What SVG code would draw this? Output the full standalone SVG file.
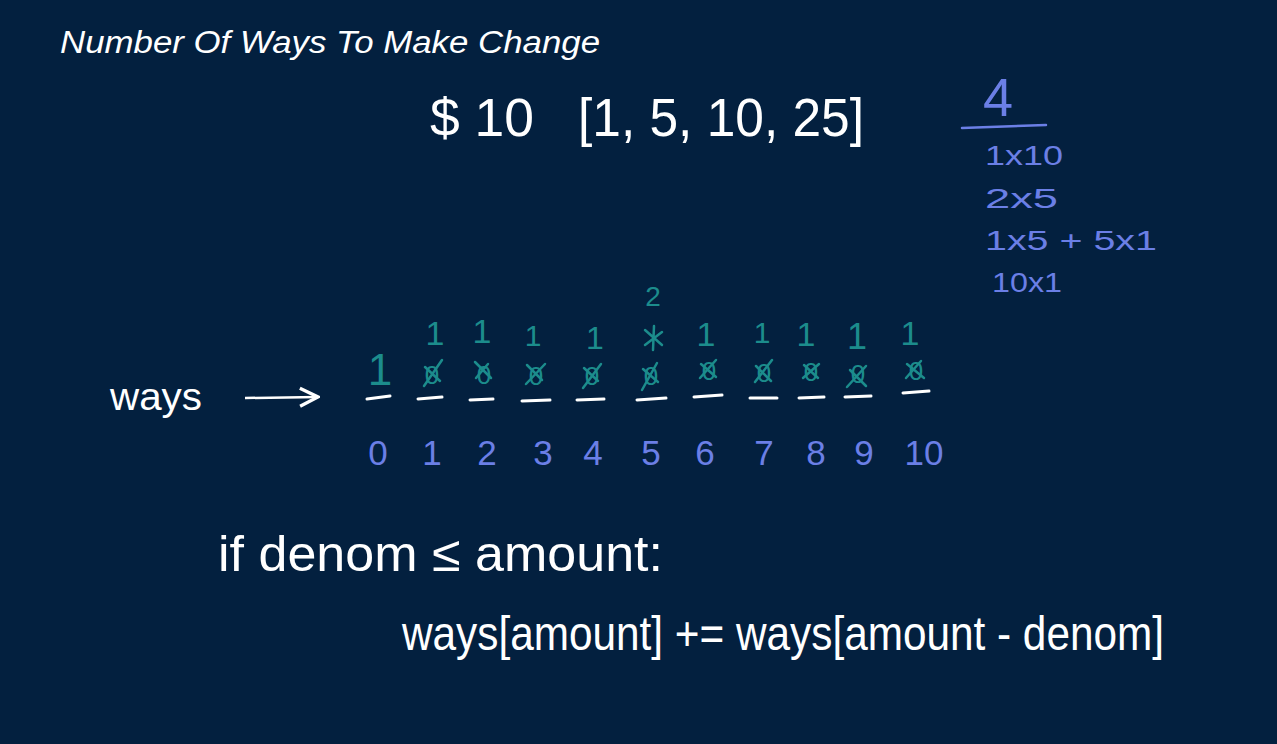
<svg xmlns="http://www.w3.org/2000/svg" width="1277" height="744" viewBox="0 0 1277 744">
<defs>
<style>
.w{fill:#ffffff;font-family:"Liberation Sans",Arial,sans-serif}
.b{fill:#6b7fe6;font-family:"Liberation Sans",Arial,sans-serif}
.t{fill:#1c8c8c;font-family:"Liberation Sans",Arial,sans-serif}
.ul{stroke:#ffffff;stroke-width:3;stroke-linecap:round}
.x{stroke:#1c8c8c;stroke-width:2.5;stroke-linecap:round;fill:none}
</style>
<marker id="ah" viewBox="0 0 10 10" refX="9" refY="5" markerWidth="9" markerHeight="9" orient="auto"><path d="M1,1 L9,5 L1,9" fill="none" stroke="#fff" stroke-width="1.5"/></marker>
</defs>
<rect width="1277" height="744" fill="#03203f"/>
<text class="w" x="60" y="53" font-size="31" font-style="italic" textLength="540" lengthAdjust="spacingAndGlyphs">Number Of Ways To Make Change</text>
<g id="problem">
<text class="w" x="430" y="136" font-size="54" textLength="104" lengthAdjust="spacingAndGlyphs">$ 10</text>
<text class="w" x="578" y="136" font-size="54" textLength="286" lengthAdjust="spacingAndGlyphs">[1, 5, 10, 25]</text>
</g>
<g id="answer">
<text class="b" x="983" y="116" font-size="54">4</text>
<line x1="962" y1="128" x2="1046" y2="125" stroke="#6b7fe6" stroke-width="2.5" stroke-linecap="round"/>
<text class="b" x="985" y="165" font-size="28" textLength="78" lengthAdjust="spacingAndGlyphs">1x10</text>
<text class="b" x="985" y="208" font-size="28" textLength="73" lengthAdjust="spacingAndGlyphs">2x5</text>
<text class="b" x="985" y="250" font-size="28" textLength="172" lengthAdjust="spacingAndGlyphs">1x5 + 5x1</text>
<text class="b" x="992" y="292" font-size="28" textLength="70" lengthAdjust="spacingAndGlyphs">10x1</text>
</g>
<g id="ways-label">
<text class="w" x="110" y="410" font-size="38" textLength="92" lengthAdjust="spacingAndGlyphs">ways</text>
</g>
<g id="connectors">
<line x1="245" y1="398" x2="318" y2="397" stroke="#fff" stroke-width="2.5" marker-end="url(#ah)"/>
</g>
<g id="array">
<line class="ul" x1="367" y1="399" x2="390" y2="396"/>
<line class="ul" x1="418" y1="399" x2="442" y2="397"/>
<line class="ul" x1="470" y1="400" x2="493" y2="399"/>
<line class="ul" x1="522" y1="401" x2="550" y2="400"/>
<line class="ul" x1="577" y1="400" x2="604" y2="399"/>
<line class="ul" x1="637" y1="400" x2="666" y2="398"/>
<line class="ul" x1="694" y1="397" x2="722" y2="395"/>
<line class="ul" x1="750" y1="398" x2="777" y2="398"/>
<line class="ul" x1="799" y1="398" x2="824" y2="397"/>
<line class="ul" x1="845" y1="397" x2="871" y2="396"/>
<line class="ul" x1="903" y1="393" x2="929" y2="391"/>
</g>
<g id="indices">
<text class="b" x="378" y="465" font-size="35" text-anchor="middle">0</text>
<text class="b" x="432" y="465" font-size="35" text-anchor="middle">1</text>
<text class="b" x="487" y="465" font-size="35" text-anchor="middle">2</text>
<text class="b" x="543" y="465" font-size="35" text-anchor="middle">3</text>
<text class="b" x="593" y="465" font-size="35" text-anchor="middle">4</text>
<text class="b" x="651" y="465" font-size="35" text-anchor="middle">5</text>
<text class="b" x="705" y="465" font-size="35" text-anchor="middle">6</text>
<text class="b" x="764" y="465" font-size="35" text-anchor="middle">7</text>
<text class="b" x="816" y="465" font-size="35" text-anchor="middle">8</text>
<text class="b" x="864" y="465" font-size="35" text-anchor="middle">9</text>
<text class="b" x="924" y="465" font-size="35" text-anchor="middle">10</text>
</g>
<g id="values">
<text class="t" x="380" y="385" font-size="44" text-anchor="middle">1</text>
<text class="t" x="432" y="384" font-size="26" text-anchor="middle">0</text>
<text class="t" x="484" y="384" font-size="26" text-anchor="middle">0</text>
<text class="t" x="536" y="385" font-size="26" text-anchor="middle">0</text>
<text class="t" x="592" y="385" font-size="26" text-anchor="middle">0</text>
<text class="t" x="651" y="385" font-size="26" text-anchor="middle">0</text>
<text class="t" x="709" y="380" font-size="26" text-anchor="middle">0</text>
<text class="t" x="764" y="382" font-size="26" text-anchor="middle">0</text>
<text class="t" x="811" y="381" font-size="26" text-anchor="middle">0</text>
<text class="t" x="858" y="383" font-size="26" text-anchor="middle">0</text>
<text class="t" x="916" y="380" font-size="26" text-anchor="middle">0</text>
<path class="x" d="M424,386 L442,360 M425,367 L440,381"/>
<path class="x" d="M475,362 L491,378 M476,378 L488,364"/>
<path class="x" d="M526,384 L545,364 M527,365 L542,380"/>
<path class="x" d="M583,388 L601,364 M584,368 L598,381"/>
<path class="x" d="M642,390 L657,363 M643,369 L658,382"/>
<path class="x" d="M700,378 L716,360 M701,364 L716,377"/>
<path class="x" d="M755,382 L772,360 M756,366 L771,381"/>
<path class="x" d="M803,378 L819,364 M804,365 L818,378"/>
<path class="x" d="M847,387 L866,366 M850,370 L866,386"/>
<path class="x" d="M906,378 L921,361 M907,364 L924,378"/>
<text class="t" x="435" y="345" font-size="34" text-anchor="middle">1</text>
<text class="t" x="482" y="343" font-size="34" text-anchor="middle">1</text>
<text class="t" x="533" y="346" font-size="30" text-anchor="middle">1</text>
<text class="t" x="595" y="349" font-size="32" text-anchor="middle">1</text>
<path class="x" d="M645,330 L662,345 M645,345 L662,332 M654,326 L653,350"/>
<text class="t" x="653" y="306" font-size="28" text-anchor="middle">2</text>
<text class="t" x="706" y="346" font-size="34" text-anchor="middle">1</text>
<text class="t" x="762" y="343" font-size="30" text-anchor="middle">1</text>
<text class="t" x="806" y="346" font-size="34" text-anchor="middle">1</text>
<text class="t" x="857" y="349" font-size="36" text-anchor="middle">1</text>
<text class="t" x="910" y="345" font-size="34" text-anchor="middle">1</text>
</g>
<g id="rule">
<text class="w" x="218" y="571" font-size="50" textLength="445" lengthAdjust="spacingAndGlyphs">if denom ≤ amount:</text>
<text class="w" x="402" y="650" font-size="48" textLength="762" lengthAdjust="spacingAndGlyphs">ways[amount] += ways[amount - denom]</text>
</g>
</svg>
